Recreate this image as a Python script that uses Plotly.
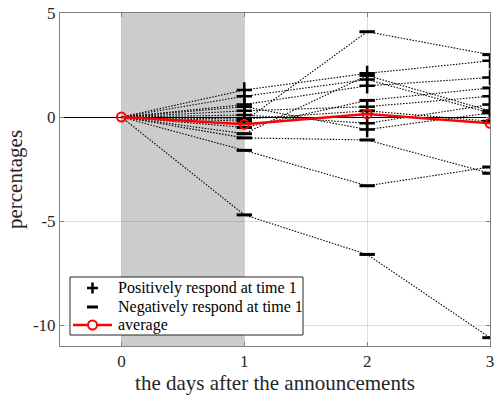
import plotly.graph_objects as go

days = [0, 1, 2, 3]

# series that respond positively at time 1 ('+' markers)
pos_series = [
    [0, 1.3, 2.1, 2.7],
    [0, 1.0, 1.8, 0.2],
    [0, 0.6, 1.5, 1.9],
    [0, 0.3, 0.5, 1.0],
    [0, 0.1, -0.3, 0.6],
    [0, 0.5, -0.6, 0.2],
]
# series that respond negatively at time 1 ('-' markers)
neg_series = [
    [0, -4.7, -6.6, -10.6],
    [0, -1.6, -3.3, -2.4],
    [0, -1.0, -1.1, -2.7],
    [0, -0.2, 4.1, 3.0],
    [0, -0.5, 0.8, 1.4],
    [0, -0.8, 2.0, 0.3],
    [0, -0.1, 0.3, -0.2],
]
average = [0, -0.35, 0.15, -0.3]

x_ticks = [0, 1, 2, 3]
y_ticks = [-10, -5, 0, 5]
y_ticktext = ["-10", "-5", "0", "5"]
legend_labels = ["Positively respond at time 1", "Negatively respond at time 1", "average"]

FONT = "Liberation Serif, Times New Roman, serif"
W, H = 495, 399
ML, MR, MT, MB = 60, 5, 13, 53
PW, PH = W - ML - MR, H - MT - MB

def px(xp):
    return (xp - ML) / PW

def py(yp):
    return (H - MB - yp) / PH

fig = go.Figure()

def add_series(vals, symbol, msize, mwidth):
    fig.add_trace(go.Scatter(
        x=days, y=vals, mode="lines", showlegend=False,
        line=dict(color="black", width=1.1, dash="1.5px,1.5px"), hoverinfo="skip"))
    fig.add_trace(go.Scatter(
        x=days[1:], y=vals[1:], mode="markers", showlegend=False,
        marker=dict(symbol=symbol, size=msize, color="black",
                    line=dict(color="black", width=mwidth))))

for s in pos_series:
    add_series(s, "cross-thin", 11, 2.5)
for s in neg_series:
    add_series(s, "line-ew", 11, 3)

fig.add_trace(go.Scatter(
    x=days, y=average, mode="lines+markers", name=legend_labels[2], showlegend=False,
    line=dict(color="red", width=2.5),
    marker=dict(symbol="circle-open", size=9, color="red", line=dict(color="red", width=2))))

# shaded window
fig.add_shape(type="rect", xref="x", yref="paper", x0=0, x1=1, y0=0, y1=1,
              fillcolor="#cccccc", line=dict(width=0), layer="below")

# legend (drawn manually to match box size)
P = dict(xref="paper", yref="paper")
fig.add_shape(type="rect", x0=px(70), x1=px(303), y0=py(335), y1=py(277),
              fillcolor="white", line=dict(color="#262626", width=1), **P)
# '+'
fig.add_shape(type="line", x0=px(87), x1=px(98), y0=py(288), y1=py(288),
              line=dict(color="black", width=2.5), **P)
fig.add_shape(type="line", x0=px(92.5), x1=px(92.5), y0=py(282.5), y1=py(293.5),
              line=dict(color="black", width=2.5), **P)
# '-'
fig.add_shape(type="line", x0=px(87), x1=px(98), y0=py(307), y1=py(307),
              line=dict(color="black", width=3), **P)
# red line with circle
fig.add_shape(type="line", x0=px(73), x1=px(112), y0=py(325), y1=py(325),
              line=dict(color="red", width=2.5), **P)
fig.add_shape(type="circle", x0=px(88), x1=px(97), y0=py(329.5), y1=py(320.5),
              fillcolor="white", line=dict(color="red", width=2), **P)
for lab, yy in zip(legend_labels, [288, 307, 325]):
    fig.add_annotation(text=lab, x=px(116), y=py(yy), xanchor="left", yanchor="middle",
                       showarrow=False, font=dict(family=FONT, size=16, color="black"), **P)

axis_common = dict(
    showline=True, linecolor="#808080", linewidth=1, mirror="ticks",
    ticks="inside", ticklen=4, tickcolor="#808080", automargin=False,
    showgrid=True, gridcolor="rgba(38,38,38,0.15)", gridwidth=1,
    tickfont=dict(family=FONT, size=17, color="#262626"),
)

fig.update_layout(
    width=W, height=H,
    margin=dict(l=ML, r=MR, t=MT, b=MB),
    plot_bgcolor="white", paper_bgcolor="white",
    font=dict(family=FONT, color="#262626"),
    xaxis=dict(range=[-0.5, 3], tickvals=x_ticks, zeroline=False,
               title=dict(text="the days after the announcements",
                          font=dict(family=FONT, size=21, color="#262626"), standoff=2),
               **axis_common),
    yaxis=dict(range=[-11, 5], tickvals=y_ticks, ticktext=y_ticktext,
               zeroline=True, zerolinecolor="black", zerolinewidth=1,
               title=dict(text="percentages",
                          font=dict(family=FONT, size=21, color="#262626"), standoff=4),
               **axis_common),
    showlegend=False,
)

fig.write_html("out.html", config={"displayModeBar": False},
               post_script="document.body.style.margin='0px';")
